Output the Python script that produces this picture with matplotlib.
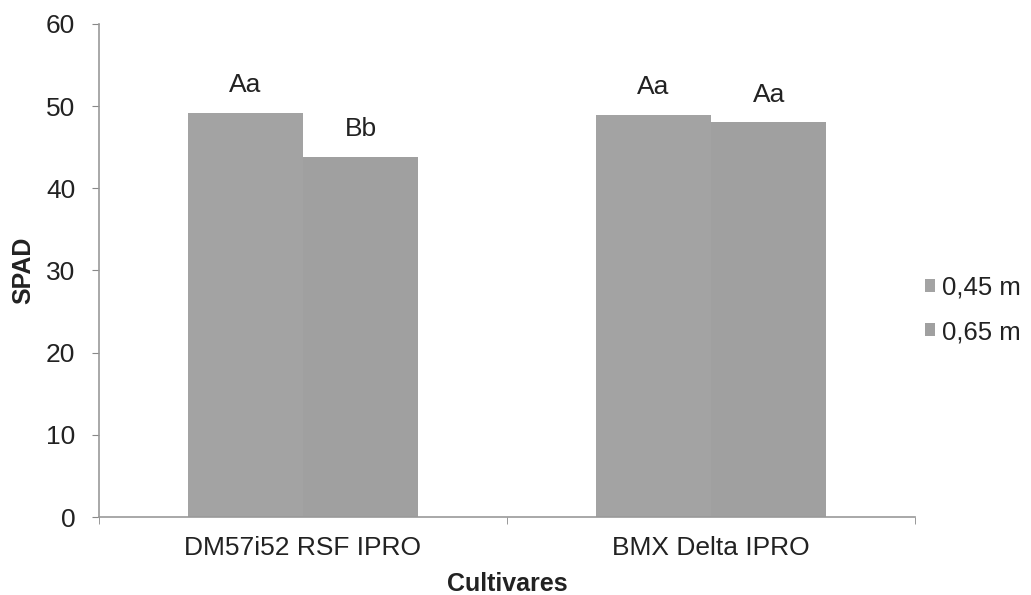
import numpy as np
import matplotlib.pyplot as plt

cultivares = ['DM57i52 RSF IPRO', 'BMX Delta IPRO']
series = ['0,45 m', '0,65 m']
spad_045 = [49.2, 48.9]
spad_065 = [43.8, 48.0]
letras_045 = ['Aa', 'Aa']
letras_065 = ['Bb', 'Aa']

plt.rcParams['font.family'] = ['Liberation Sans', 'DejaVu Sans']

fig = plt.figure(figsize=(10.31, 5.95), dpi=100)
ax = fig.add_axes([0.096, 0.131, 0.7915, 0.829])

x = np.arange(len(cultivares))
w = 0.283
b1 = ax.bar(x - w / 2, spad_045, w, color='#a3a3a3', label=series[0])
b2 = ax.bar(x + w / 2, spad_065, w, color='#a0a0a0', label=series[1])

for bars, letras in [(b1, letras_045), (b2, letras_065)]:
    for rect, txt in zip(bars, letras):
        ax.text(rect.get_x() + rect.get_width() / 2, rect.get_height() + 1.9, txt,
                ha='center', va='bottom', fontsize=19, color='#222222')

ax.set_xlim(-0.5, 1.5)
ax.set_ylim(0, 60)
ax.set_yticks(range(0, 61, 10))
ax.set_xticks(x)
ax.set_xticklabels(cultivares)
ax.set_xticks([-0.5, 0.5, 1.5], minor=True)
ax.tick_params(axis='x', which='major', length=0, pad=14, labelsize=19, labelcolor='#222222')
ax.tick_params(axis='x', which='minor', length=5, color='#888888', direction='out')
ax.tick_params(axis='y', length=5, color='#888888', labelsize=19, labelcolor='#222222', pad=12)

for s in ['top', 'right']:
    ax.spines[s].set_visible(False)
for s in ['left', 'bottom']:
    ax.spines[s].set_color('#999999')
    ax.spines[s].set_linewidth(1.2)

ax.set_ylabel('SPAD', fontsize=18, fontweight='bold', color='#222222', labelpad=8)
ax.set_xlabel('Cultivares', fontsize=18, fontweight='bold', color='#222222', labelpad=8)

leg = ax.legend(loc='center left', bbox_to_anchor=(0.99, 0.42), frameon=False,
                fontsize=18.5, handlelength=0.4, handleheight=0.4, handletextpad=0.25,
                labelspacing=0.8, labelcolor='#222222', borderaxespad=0.3)

fig.savefig('out.png', dpi=100)
